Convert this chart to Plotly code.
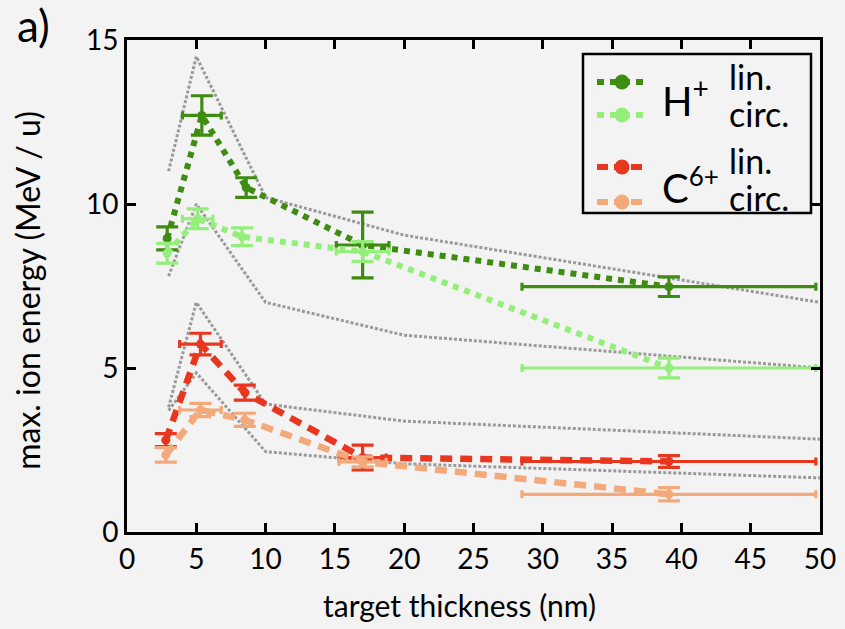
import plotly.graph_objects as go

# ---------------- data ----------------
h_lin_x = [2.9, 5.4, 8.6, 17.0, 39.1]
h_lin_xerr = [0.0, 1.4, 0.0, 1.9, 10.6]
h_lin_y = [8.95, 12.7, 10.5, 8.75, 7.48]
h_lin_yerr = [0.35, 0.6, 0.3, 1.0, 0.3]

h_circ_x = [2.9, 5.1, 8.3, 17.0, 39.1]
h_circ_xerr = [0.0, 1.1, 0.0, 1.9, 10.6]
h_circ_y = [8.5, 9.55, 9.0, 8.55, 5.0]
h_circ_yerr = [0.3, 0.3, 0.27, 0.3, 0.3]

c_lin_x = [2.8, 5.3, 8.5, 17.0, 39.1]
c_lin_xerr = [0.0, 1.5, 0.0, 1.7, 10.6]
c_lin_y = [2.8, 5.73, 4.25, 2.27, 2.15]
c_lin_yerr = [0.2, 0.33, 0.23, 0.38, 0.18]

c_circ_x = [2.8, 5.3, 8.5, 17.0, 39.1]
c_circ_xerr = [0.0, 1.5, 0.0, 1.7, 10.6]
c_circ_y = [2.35, 3.72, 3.42, 2.14, 1.15]
c_circ_yerr = [0.22, 0.2, 0.2, 0.15, 0.2]

sim_x = [3, 5, 10, 20, 50]
sim_h_upper = [11.0, 14.5, 10.2, 9.05, 7.0]
sim_h_lower = [7.8, 10.0, 7.0, 6.0, 5.0]
sim_c_upper = [3.8, 7.0, 3.9, 3.38, 2.83]
sim_c_lower = [3.7, 4.85, 2.45, 2.08, 1.65]

x_ticks = [0, 5, 10, 15, 20, 25, 30, 35, 40, 45, 50]
y_ticks = [0, 5, 10, 15]

C_HLIN = "#3f8c12"
C_HCIRC = "#94ef7a"
C_CLIN = "#e8361f"
C_CCIRC = "#f3a97a"
C_SIM = "#9a9a9a"
BG = "#f3f3f3"
FONT = "Lato"

fig = go.Figure()

for sy in [sim_h_upper, sim_h_lower, sim_c_upper, sim_c_lower]:
    fig.add_trace(go.Scatter(x=sim_x, y=sy, mode="lines",
                             line=dict(color=C_SIM, width=3, dash="3px,2px"),
                             showlegend=False, hoverinfo="skip"))

series = [
    (h_lin_x, h_lin_xerr, h_lin_y, h_lin_yerr, C_HLIN, "6px,6px", 6),
    (h_circ_x, h_circ_xerr, h_circ_y, h_circ_yerr, C_HCIRC, "6px,6px", 6),
    (c_lin_x, c_lin_xerr, c_lin_y, c_lin_yerr, C_CLIN, "12px,8px", 6.5),
    (c_circ_x, c_circ_xerr, c_circ_y, c_circ_yerr, C_CCIRC, "12px,8px", 6.5),
]
for xs, xe, ys, ye, col, dash, w in series:
    fig.add_trace(go.Scatter(
        x=xs, y=ys, mode="lines+markers",
        line=dict(color=col, width=w, dash=dash),
        marker=dict(color=col, size=9),
        error_y=dict(type="data", array=ye, color=col, thickness=3.2, width=11),
        error_x=dict(type="data", array=xe, color=col, thickness=3.2, width=4),
        showlegend=False))

# ---------- custom legend on an overlay axis (pixel-like units) ----------
leg_rows = [(82, C_HLIN, "7px,6px"), (115, C_HCIRC, "7px,6px"),
            (167, C_CLIN, "11px,6px"), (202, C_CCIRC, "11px,6px")]
for yy, col, dash in leg_rows:
    fig.add_trace(go.Scatter(x=[597, 646], y=[yy, yy], mode="lines",
                             line=dict(color=col, width=6, dash=dash),
                             xaxis="x2", yaxis="y2", showlegend=False, hoverinfo="skip"))
    fig.add_trace(go.Scatter(x=[622], y=[yy], mode="markers",
                             marker=dict(color=col, size=15),
                             xaxis="x2", yaxis="y2", showlegend=False, hoverinfo="skip"))

fig.add_shape(type="rect", xref="x2", yref="y2", x0=583, x1=811, y0=54, y1=213,
              line=dict(color="black", width=2.5), fillcolor="rgba(0,0,0,0)", layer="below")

ann_font = dict(family=FONT, size=34, color="black")
annotations = [
    dict(x=660, y=98, text="H<sup>+</sup>", font=dict(family=FONT, size=40, color="black"),
         xanchor="left", yanchor="middle"),
    dict(x=660, y=186, text="C<sup><span style='font-size:26px'>6+</span></sup>",
         font=dict(family=FONT, size=40, color="black"),
         xanchor="left", yanchor="middle"),
    dict(x=727, y=76, text="lin.", font=ann_font, xanchor="left", yanchor="middle"),
    dict(x=727, y=113, text="circ.", font=ann_font, xanchor="left", yanchor="middle"),
    dict(x=727, y=160, text="lin.", font=ann_font, xanchor="left", yanchor="middle"),
    dict(x=727, y=197, text="circ.", font=ann_font, xanchor="left", yanchor="middle"),
]
for a in annotations:
    a.update(xref="x2", yref="y2", showarrow=False)
for a in annotations:
    fig.add_annotation(**a)

fig.add_annotation(text="a)", xref="paper", yref="paper", x=-0.162, y=1.03,
                   xanchor="left", yanchor="middle", showarrow=False,
                   font=dict(family=FONT, size=44, color="black"))
fig.add_annotation(text="max. ion energy (MeV / u)", xref="paper", yref="paper",
                   x=-0.143, y=0.492, textangle=-90, xanchor="center", yanchor="middle",
                   showarrow=False, font=dict(family=FONT, size=32, color="black"))
fig.add_annotation(text="target thickness (nm)", xref="paper", yref="paper",
                   x=0.4805, y=-0.148, xanchor="center", yanchor="middle",
                   showarrow=False, font=dict(family=FONT, size=30, color="black"))

axis_common = dict(showgrid=False, zeroline=False, showline=True, linecolor="black",
                   linewidth=3, mirror="allticks", ticks="inside", ticklen=9,
                   tickwidth=2.5, tickcolor="black", automargin=False,
                   tickfont=dict(family=FONT, size=28, color="black"))

fig.update_layout(
    width=845, height=629,
    margin=dict(l=127, r=25, t=40, b=97),
    paper_bgcolor=BG, plot_bgcolor=BG,
    font=dict(family=FONT, color="black"),
    xaxis=dict(range=[0, 50], tickvals=x_ticks, **axis_common),
    yaxis=dict(range=[0, 15], tickvals=y_ticks, **axis_common),
    xaxis2=dict(overlaying="x", range=[127, 820], visible=False, fixedrange=True),
    yaxis2=dict(overlaying="y", range=[532, 40], visible=False, fixedrange=True),
)

fig.write_html("out.html", config={"displayModeBar": False},
               post_script="document.body.style.margin='0';document.body.style.background='#f3f3f3';")
